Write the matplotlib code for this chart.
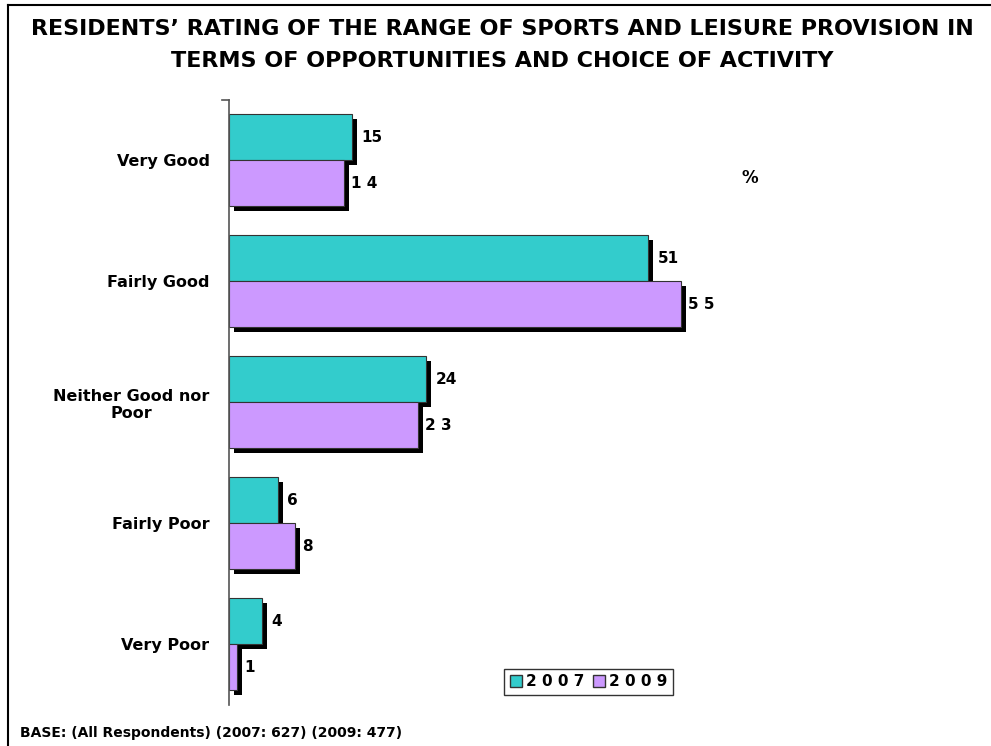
import numpy as np
import matplotlib
matplotlib.use("Agg")
import matplotlib.pyplot as plt
import matplotlib.patheffects as pe
from matplotlib.lines import Line2D
from matplotlib.patches import Patch

categories = ["Very Good", "Fairly Good", "Neither Good nor\nPoor", "Fairly Poor", "Very Poor"]
vals_2007 = [15, 51, 24, 6, 4]
vals_2009 = [14, 55, 23, 8, 1]
labels_2007 = ["15", "51", "24", "6", "4"]
labels_2009 = ["1 4", "5 5", "2 3", "8", "1"]
years = ["2 0 0 7", "2 0 0 9"]

teal = "#33CCCC"
purple = "#CC99FF"

fig = plt.figure(figsize=(9.91, 7.46), dpi=100)
ax = fig.add_axes([0.2311, 0.055, 0.7467, 0.811])

y = np.arange(len(categories))
h = 0.38
shadow = [pe.SimplePatchShadow(offset=(3.5, -3.5), shadow_rgbFace="black", alpha=1.0), pe.Normal()]

ax.barh(y - h / 2, vals_2007, height=h, color=teal, edgecolor="#333333", linewidth=0.8,
        path_effects=shadow)
ax.barh(y + h / 2, vals_2009, height=h, color=purple, edgecolor="#333333", linewidth=0.8,
        path_effects=shadow)

for i in range(len(categories)):
    ax.annotate(labels_2007[i], (vals_2007[i], y[i] - h / 2), xytext=(6.5, 0), textcoords="offset points",
                ha="left", va="center", fontsize=11, fontweight="bold")
    ax.annotate(labels_2009[i], (vals_2009[i], y[i] + h / 2), xytext=(5, 0), textcoords="offset points",
                ha="left", va="center", fontsize=11, fontweight="bold")

ax.set_xlim(0, 90)
ax.set_ylim(4.5, -0.5)
ax.set_yticks(y)
ax.set_yticklabels(categories, fontsize=11.5, fontweight="bold", multialignment="center")
ax.tick_params(axis="y", length=0, pad=14)
ax.set_xticks([])
for s in ["top", "right", "bottom"]:
    ax.spines[s].set_visible(False)
ax.spines["left"].set_color("#555555")
ax.spines["left"].set_linewidth(1.2)
ax.plot([-0.8, 0], [-0.5, -0.5], color="#555555", lw=1.2, clip_on=False)

fig.text(0.507, 0.961, "RESIDENTS\u2019 RATING OF THE RANGE OF SPORTS AND LEISURE PROVISION IN",
         ha="center", va="center", fontsize=16, fontweight="bold")
fig.text(0.507, 0.918, "TERMS OF OPPORTUNITIES AND CHOICE OF ACTIVITY",
         ha="center", va="center", fontsize=16, fontweight="bold")
fig.text(0.757, 0.761, "%", ha="center", va="center", fontsize=12, fontweight="bold")
fig.text(0.02, 0.017, "BASE: (All Respondents) (2007: 627) (2009: 477)",
         ha="left", va="center", fontsize=10, fontweight="bold")

handles = [Patch(facecolor=teal, edgecolor="#333333"), Patch(facecolor=purple, edgecolor="#333333")]
leg = fig.legend(handles=handles, labels=years, loc="center", bbox_to_anchor=(0.594, 0.086),
                 ncol=2, fancybox=False, edgecolor="#333333", framealpha=1,
                 handlelength=0.8, handleheight=0.9, handletextpad=0.25, columnspacing=0.6,
                 borderpad=0.35, prop={"size": 11, "weight": "bold"})
leg.get_frame().set_linewidth(1.0)

# frame lines on left and top
fig.add_artist(Line2D([0.008, 0.008], [0, 0.993], color="black", lw=1.5, transform=fig.transFigure))
fig.add_artist(Line2D([0.008, 1.0], [0.993, 0.993], color="black", lw=1.5, transform=fig.transFigure))

fig.savefig("out.png", dpi=100)
